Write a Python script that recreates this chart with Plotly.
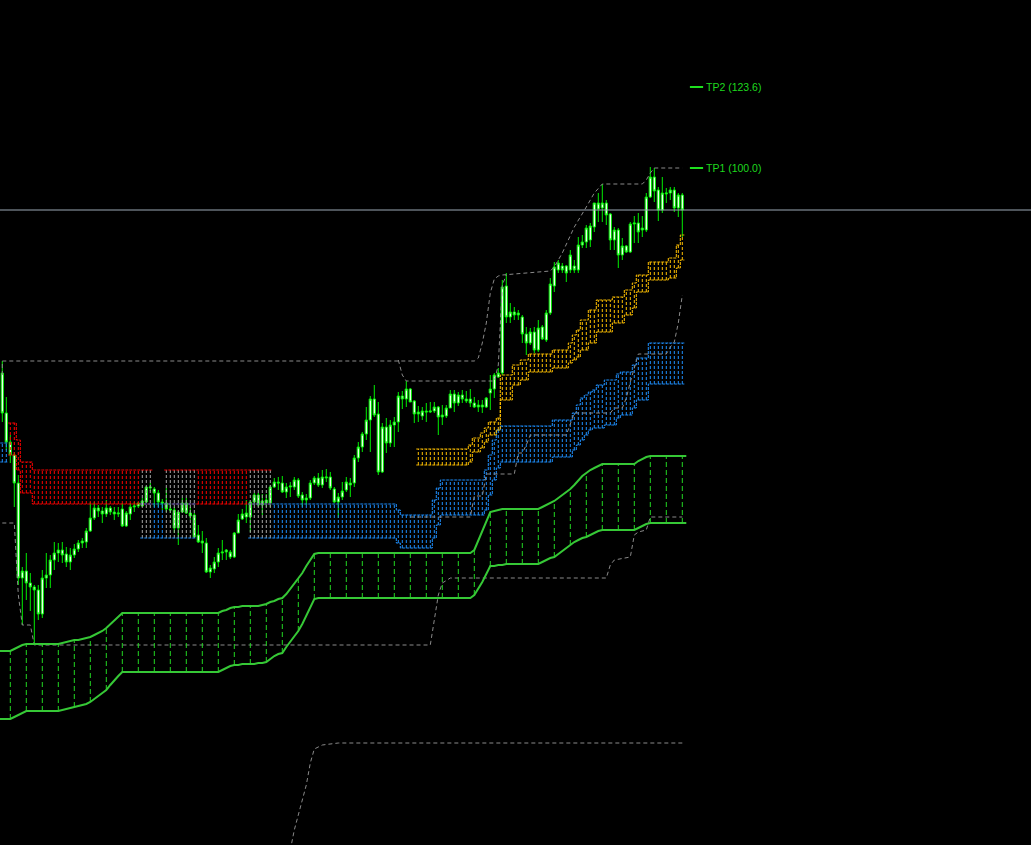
import plotly.graph_objects as go

# ---------------- DATA ----------------
bars = list(range(171))

opens = [472,432,403,390,362,267,274,262,258,255,231,267,270,285,292,295,291,283,290,296,
         302,303,314,327,337,334,331,337,333,331,336,319,331,338,339,339,343,357,356,352,
         343,342,336,335,317,333,342,332,330,310,304,302,273,276,283,292,293,288,288,312,
         326,328,328,343,350,340,342,342,358,363,362,353,358,358,365,350,345,347,362,367,
         360,367,368,356,343,348,355,360,362,387,398,411,425,446,431,373,418,402,420,423,
         449,446,456,444,431,429,434,433,434,438,428,429,437,451,442,450,446,446,442,438,
         440,438,452,456,468,472,559,528,533,530,528,511,502,513,495,518,505,532,559,575,
         579,579,575,579,575,600,603,605,618,636,637,642,631,605,615,590,599,593,621,622,
         615,615,648,668,655,635,651,652,655,637,650]
highs = [484,448,410,393,370,278,292,272,260,260,275,292,290,303,302,303,298,297,301,305,
         307,317,343,343,340,338,345,339,338,338,342,334,342,343,343,347,359,362,358,355,
         346,357,342,338,335,347,347,338,332,320,314,307,280,288,297,305,296,295,313,331,
         336,345,345,352,352,351,351,360,367,368,369,362,363,368,367,353,351,365,369,372,
         375,376,373,358,352,363,368,367,390,403,413,438,449,460,443,422,427,425,428,453,
         454,464,457,445,439,438,442,443,443,439,440,440,455,455,453,455,454,456,448,445,
         445,448,470,472,477,565,572,542,538,535,530,518,517,518,525,520,535,567,583,585,
         582,580,595,585,608,610,620,622,642,652,661,645,632,618,617,607,600,623,629,632,
         629,652,678,677,658,668,657,658,658,652,652]
lows = [423,395,382,338,260,220,245,234,200,225,227,257,257,275,283,282,278,275,287,293,
        297,297,313,325,328,322,328,330,325,328,318,318,325,333,337,338,342,354,338,338,
        335,333,332,312,300,332,331,325,308,302,292,272,267,272,278,285,285,286,287,312,
        325,322,313,340,338,330,338,338,357,355,352,347,348,355,347,338,340,345,360,358,
        357,363,355,342,327,345,353,348,358,383,393,405,393,428,370,372,392,398,398,413,
        436,438,443,422,423,425,423,432,432,410,420,427,437,433,439,442,442,438,437,433,
        432,437,435,447,467,470,522,522,525,525,502,490,500,492,493,505,503,530,553,572,
        572,563,572,572,572,597,597,598,613,623,623,620,595,595,577,585,592,592,602,602,
        608,613,647,643,624,632,642,645,633,628,608]
closes = [432,403,390,362,267,274,262,258,255,231,267,270,285,292,295,290,283,290,296,302,
          304,314,327,337,334,331,337,333,331,332,319,332,338,339,342,344,358,358,352,343,
          342,336,335,317,333,342,332,329,308,303,302,273,277,283,292,293,295,293,312,325,
          331,332,343,350,340,344,345,358,363,362,353,358,359,365,349,345,347,362,367,360,
          368,368,357,343,348,354,363,362,387,398,411,425,446,430,373,418,402,420,423,449,
          446,456,443,431,433,434,433,434,438,428,430,437,451,442,450,446,444,442,438,440,
          438,447,456,470,472,558,528,533,530,532,511,502,513,495,517,506,532,561,578,582,
          575,572,590,575,600,603,617,619,642,642,642,630,605,615,590,599,593,621,622,613,
          617,648,668,654,635,652,652,655,637,650,635]

green_upper = [194,194,194,196,198,200,201,201,201,201,201,201,201,201,201,202,203,204,205,205,
               206,207,208,210,212,214,217,221,225,229,232,232,232,232,232,232,232,232,232,232,
               232,232,232,232,232,232,232,232,232,232,232,232,232,232,232,234,235,237,238,238,
               239,239,239,239,239,240,241,243,244,246,247,251,256,261,266,272,279,285,291,292,
               292,292,292,292,292,292,292,292,292,292,292,292,292,292,292,292,292,292,292,292,
               292,292,292,292,292,292,292,292,292,292,292,292,292,292,292,292,292,292,295,305,
               315,324,333,334,335,336,336,336,336,336,336,336,336,336,336,338,340,342,344,347,
               350,353,356,360,365,369,372,375,377,379,381,381,381,381,381,381,381,381,381,384,
               386,388,389,389,389,389,389,389,389,389,389]
green_lower = [126,126,126,128,130,132,134,134,134,134,134,134,134,134,134,135,136,137,138,139,
               140,141,143,146,149,152,155,160,165,169,173,173,173,173,173,173,173,173,173,173,
               173,173,173,173,173,173,173,173,173,173,173,173,173,173,173,175,177,179,180,180,
               181,181,181,181,182,182,183,186,189,191,192,198,203,209,214,221,229,238,246,247,
               247,247,247,247,247,247,247,247,247,247,247,247,247,247,247,247,247,247,247,247,
               247,247,247,247,247,247,247,247,247,247,247,247,247,247,247,247,247,247,250,256,
               263,271,279,279,280,280,281,281,281,281,281,281,281,281,281,283,285,287,288,291,
               294,297,300,303,305,307,308,310,312,314,315,315,315,315,315,315,315,315,315,317,
               319,321,322,322,322,322,322,322,322,322,322]

# zones: (first bar, last bar, top, bottom)
red_runs = [(2, 3, 422, 390), (4, 4, 405, 375), (5, 7, 383, 352), (8, 37, 375, 341), (41, 67, 375, 341)]
blue_runs = [(0, 1, 402, 383), (35, 48, 341, 307), (62, 98, 341, 307), (99, 99, 335, 302),
             (100, 107, 330, 297), (108, 108, 345, 307), (109, 109, 357, 320), (110, 120, 365, 330),
             (121, 121, 375, 335), (122, 122, 390, 350), (123, 123, 405, 365), (124, 124, 415, 377),
             (125, 137, 419, 383), (138, 142, 425, 388), (143, 143, 432, 395), (144, 144, 440, 400),
             (145, 145, 447, 405), (146, 146, 450, 410), (147, 147, 453, 415), (148, 148, 455, 417),
             (149, 150, 460, 417), (151, 153, 465, 420), (154, 154, 471, 427), (155, 157, 473, 430),
             (158, 158, 480, 437), (159, 161, 487, 445), (162, 170, 502, 461)]
yellow_runs = [(104, 116, 396, 380), (117, 117, 400, 383), (118, 119, 407, 393), (120, 120, 412, 397),
               (121, 121, 417, 403), (122, 123, 423, 410), (124, 124, 427, 415), (125, 127, 470, 445),
               (128, 129, 480, 460), (130, 131, 485, 465), (132, 137, 491, 473), (138, 141, 495, 477),
               (142, 142, 502, 482), (143, 143, 510, 485), (144, 144, 515, 488), (145, 146, 525, 495),
               (147, 148, 535, 502), (149, 152, 545, 513), (153, 155, 548, 522), (156, 157, 555, 530),
               (158, 158, 562, 537), (159, 161, 570, 553), (162, 166, 583, 565), (167, 168, 587, 567),
               (169, 169, 600, 577), (170, 170, 610, 585)]

# channel lines (bar, price vertices)
chan_a_x = [0, 0, 118, 119, 120, 121, 122, 123, 124, 125, 137, 138, 140, 143, 146, 148, 150, 160, 161, 162, 163, 170]
chan_a_y = [470, 484, 484, 487, 502, 522, 552, 566, 569, 570, 574, 578, 592, 618, 638, 652, 661, 661, 665, 672, 677, 677]
chan_b_x = [99, 100, 101, 123, 124, 125, 126]
chan_b_y = [485, 470, 464, 464, 480, 560, 570]
chan_c_x = [0, 3, 4, 5, 7, 8, 107, 108, 109, 110, 112, 151, 152, 153, 157, 158, 159, 161, 162, 170]
chan_c_y = [322, 322, 250, 220, 220, 200, 200, 225, 250, 262, 267, 267, 280, 285, 288, 310, 313, 315, 328, 328]
chan_d_x = [102, 117, 118, 120, 121, 128, 129, 130, 131, 132, 141, 142, 143, 152, 153, 155, 156, 157, 158, 159, 166, 167, 168, 169, 170]
chan_d_y = [328, 328, 349, 349, 371, 371, 392, 392, 400, 410, 410, 420, 432, 432, 437, 437, 447, 463, 477, 491, 491, 498, 503, 522, 550]
chan_e_x = [72, 73, 75, 76, 77, 78, 80, 84, 170]
chan_e_y = [-5, 15, 45, 60, 82, 96, 100, 102, 102]

last_price = 635
tp_labels = ["TP2 (123.6)", "TP1 (100.0)"]
tp_prices = [758, 677]

# ---------------- STYLE ----------------
GREEN_C = "#00ee00"
BAND_C = "#36c836"
RED_C = "#ff0000"
BLUE_C = "#1e90ff"
YEL_C = "#ffc000"
OVL_C = "#a8a8a8"
CHAN_C = "#8a8a8a"
N = len(bars)


def expand(runs):
    top = [None] * N
    bot = [None] * N
    for a, b, t, btm in runs:
        for i in range(a, b + 1):
            top[i] = t
            bot[i] = btm
    return top, bot


def edge_xy(vals):
    xs, ys = [], []
    prev = None
    for i in range(N):
        v = vals[i]
        if v is None:
            if prev is not None:
                xs.append(None)
                ys.append(None)
        else:
            if prev is None:
                xs.append(i - 0.5)
                ys.append(v)
            xs.append(i)
            ys.append(v)
            if i == N - 1 or vals[i + 1] is None:
                xs.append(i + 0.5)
                ys.append(v)
        prev = v
    return xs, ys


def vert_xy(idx, lo, hi):
    xs, ys = [], []
    for i in idx:
        xs += [i, i, None]
        ys += [lo[i], hi[i], None]
    return xs, ys


red_top, red_bot = expand(red_runs)
blue_top, blue_bot = expand(blue_runs)
yel_top, yel_bot = expand(yellow_runs)

fig = go.Figure()

# hatch verticals
both = [i for i in range(N) if red_top[i] is not None and blue_top[i] is not None]
red_only = [i for i in range(N) if red_top[i] is not None and blue_top[i] is None]
blue_only = [i for i in range(N) if blue_top[i] is not None and red_top[i] is None]
yel_idx = [i for i in range(N) if yel_top[i] is not None]

vdash = "3px,2px"
hdash = "3px,1px"
for idx, lo, hi, col in [
    (red_only, red_bot, red_top, RED_C),
    (blue_only, blue_bot, blue_top, BLUE_C),
    (both, blue_bot, red_top, OVL_C),
    (yel_idx, yel_bot, yel_top, YEL_C),
]:
    xs, ys = vert_xy(idx, lo, hi)
    fig.add_trace(go.Scatter(x=xs, y=ys, mode="lines", line=dict(color=col, width=1, dash=vdash),
                             hoverinfo="skip", connectgaps=False))

for vals, col in [(red_top, RED_C), (red_bot, RED_C), (blue_top, BLUE_C), (blue_bot, BLUE_C),
                  (yel_top, YEL_C), (yel_bot, YEL_C)]:
    xs, ys = edge_xy(vals)
    fig.add_trace(go.Scatter(x=xs, y=ys, mode="lines", line=dict(color=col, width=1, dash=hdash, shape="hvh"),
                             hoverinfo="skip", connectgaps=False))

# channel lines
for cx, cy in [(chan_a_x, chan_a_y), (chan_b_x, chan_b_y), (chan_c_x, chan_c_y),
               (chan_d_x, chan_d_y), (chan_e_x, chan_e_y)]:
    fig.add_trace(go.Scatter(x=cx, y=cy, mode="lines", line=dict(color=CHAN_C, width=1, dash="4px,3px"),
                             hoverinfo="skip"))

# green band
band_idx = [i for i in range(N) if i % 4 == 2]
xs, ys = vert_xy(band_idx, green_lower, green_upper)
fig.add_trace(go.Scatter(x=xs, y=ys, mode="lines", line=dict(color="#22d822", width=1, dash="5px,3px"),
                         hoverinfo="skip", connectgaps=False))
fig.add_trace(go.Scatter(x=[-0.6] + bars + [171], y=[green_upper[0]] + green_upper + [green_upper[-1]],
                         mode="lines", line=dict(color=BAND_C, width=2), hoverinfo="skip"))
fig.add_trace(go.Scatter(x=[-0.6] + bars + [171], y=[green_lower[0]] + green_lower + [green_lower[-1]],
                         mode="lines", line=dict(color=BAND_C, width=2), hoverinfo="skip"))

# candles
fig.add_trace(go.Candlestick(
    x=bars, open=opens, high=highs, low=lows, close=closes,
    increasing=dict(line=dict(color=GREEN_C, width=1), fillcolor="#ffffff"),
    decreasing=dict(line=dict(color=GREEN_C, width=1), fillcolor="#ffffff"),
    whiskerwidth=0, hoverinfo="skip",
))

# TP markers
for lab, pr in zip(tp_labels, tp_prices):
    fig.add_trace(go.Scatter(x=[N + 0.9, N + 4.2], y=[pr, pr], mode="lines",
                             line=dict(color="#1ee01e", width=2), hoverinfo="skip"))
    fig.add_annotation(x=N + 4.4, y=pr, text=lab, showarrow=False, xanchor="left", yanchor="middle",
                       font=dict(family="Liberation Sans, Arial", size=10.5, color="#1ed81e"))

fig.add_shape(type="line", xref="paper", x0=0, x1=1, y0=last_price, y1=last_price,
              line=dict(color="#9ba8b5", width=1))

fig.update_layout(
    width=1031, height=845,
    margin=dict(l=0, r=0, t=0, b=0),
    paper_bgcolor="#000000", plot_bgcolor="#000000",
    showlegend=False,
    boxgap=0.2,
    xaxis=dict(visible=False, range=[-0.575, 257.175], rangeslider=dict(visible=False), fixedrange=True),
    yaxis=dict(visible=False, range=[0, 845], fixedrange=True),
)

fig.write_html("out.html", config={"displayModeBar": False},
               post_script="document.body.style.margin='0';document.body.style.background='#000';")
